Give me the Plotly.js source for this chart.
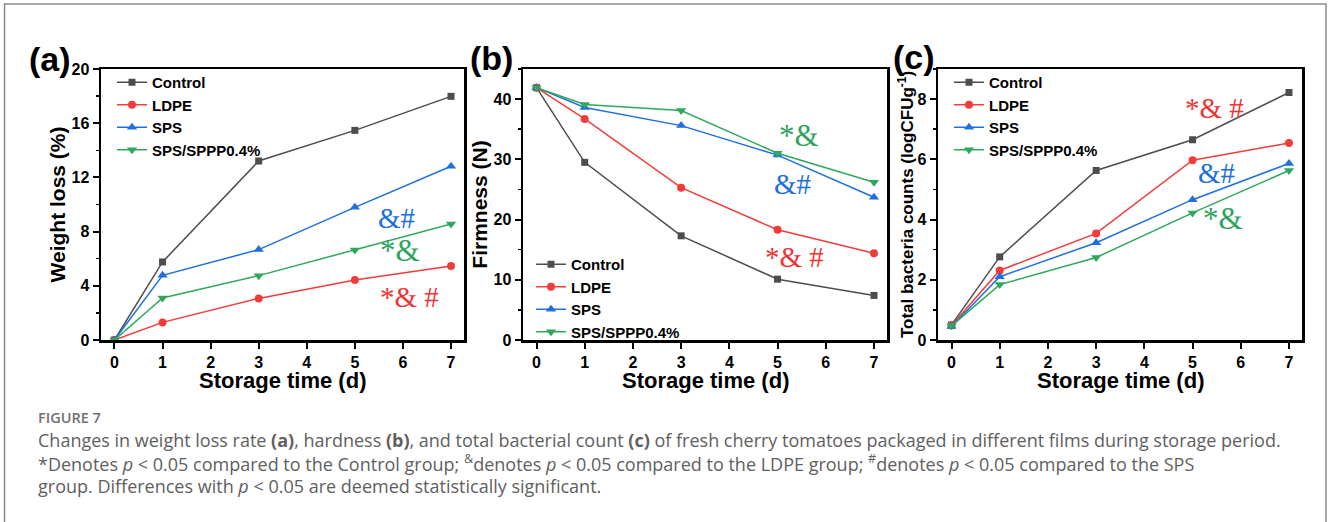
<!DOCTYPE html>
<html>
<head>
<meta charset="utf-8">
<script src="https://cdn.plot.ly/plotly-3.0.1.min.js"></script>
<style>html,body{margin:0;padding:0;background:#fff;}#chart{width:1328px;height:522px;}</style>
</head>
<body>
<div id="chart"></div>
<script>
// ---- data ----
const days = [0, 1, 3, 5, 7];
const seriesNames = ["Control", "LDPE", "SPS", "SPS/SPPP0.4%"];

// (a) Weight loss (%)
const weightControl = [0, 5.76, 13.21, 15.47, 17.98];
const weightLDPE    = [0, 1.30, 3.07, 4.43, 5.46];
const weightSPS     = [0, 4.77, 6.67, 9.79, 12.82];
const weightSPPP    = [0, 3.10, 4.75, 6.64, 8.56];

// (b) Firmness (N)
const firmControl = [41.9, 29.5, 17.3, 10.1, 7.4];
const firmLDPE    = [41.9, 36.7, 25.3, 18.3, 14.4];
const firmSPS     = [41.9, 38.6, 35.6, 30.7, 23.7];
const firmSPPP    = [41.9, 39.1, 38.1, 31.0, 26.2];

// (c) Total bacteria counts (logCFU g-1)
const bactControl = [0.50, 2.76, 5.63, 6.65, 8.22];
const bactLDPE    = [0.48, 2.31, 3.54, 5.97, 6.54];
const bactSPS     = [0.45, 2.10, 3.23, 4.66, 5.86];
const bactSPPP    = [0.47, 1.84, 2.74, 4.22, 5.63];

const xTicks = [0, 1, 2, 3, 4, 5, 6, 7];
const xTitle = "Storage time (d)";

// ---- styles ----
const colors = ["#4d4d4d", "#f23c3c", "#1f6fe0", "#2fa85c"];
const symbols = ["square", "circle", "triangle-up", "triangle-down"];
const msizes = [7, 8, 9, 9];
const annColors = {red: "#ee3535", blue: "#1c6fdc", green: "#2ea35c"};

function mk(vals, i, xa, ya, leg) {
  return {
    x: days, y: vals, type: "scatter", mode: "lines+markers",
    name: seriesNames[i], xaxis: xa, yaxis: ya, legend: leg,
    line: {color: colors[i], width: 1.5},
    marker: {color: colors[i], symbol: symbols[i], size: msizes[i]}
  };
}

const data = [
  mk(weightControl, 0, "x", "y", "legend"),
  mk(weightLDPE, 1, "x", "y", "legend"),
  mk(weightSPS, 2, "x", "y", "legend"),
  mk(weightSPPP, 3, "x", "y", "legend"),
  mk(firmControl, 0, "x2", "y2", "legend2"),
  mk(firmLDPE, 1, "x2", "y2", "legend2"),
  mk(firmSPS, 2, "x2", "y2", "legend2"),
  mk(firmSPPP, 3, "x2", "y2", "legend2"),
  mk(bactControl, 0, "x3", "y3", "legend3"),
  mk(bactLDPE, 1, "x3", "y3", "legend3"),
  mk(bactSPS, 2, "x3", "y3", "legend3"),
  mk(bactSPPP, 3, "x3", "y3", "legend3")
];

const W = 1328, H = 522;
const px = v => v / W;
const py = v => 1 - v / H;
const sans = "Liberation Sans, Arial, sans-serif";
const tickFont = {family: sans, size: 16, color: "#000", weight: "bold"};
const titleFont = {family: sans, size: 22, weight: "bold", color: "#000"};

function xAxis(l, r) {
  return {
    domain: [px(l), px(r)], range: [-0.28, 7.27], tickvals: xTicks,
    ticks: "outside", ticklen: 6, tickwidth: 2, tickcolor: "#000",
    showline: true, linewidth: 2.5, linecolor: "#000", mirror: true,
    showgrid: false, zeroline: false, tickfont: tickFont
  };
}
function yAxis(anchor, range, dtick, title, tsize, standoff) {
  return {
    domain: [py(340), py(69)], anchor: anchor, range: range, dtick: dtick, tick0: 0,
    ticks: "outside", ticklen: 6, tickwidth: 2, tickcolor: "#000",
    minor: {dtick: dtick / 2, ticks: "outside", ticklen: 3, tickwidth: 1.5, tickcolor: "#000"},
    showline: true, linewidth: 2.5, linecolor: "#000", mirror: true,
    showgrid: false, zeroline: false, tickfont: tickFont,
    title: {text: title, font: {family: sans, size: tsize, weight: "bold", color: "#000"}, standoff: standoff}
  };
}

function legendAt(xl, yt) {
  return {
    x: px(xl), y: py(yt), xanchor: "left", yanchor: "top",
    bgcolor: "rgba(0,0,0,0)", borderwidth: 0,
    font: {family: sans, size: 15, weight: "bold", color: "#000"},
    tracegroupgap: 0, itemwidth: 30
  };
}

function ann(xref, yref, x, y, text, color, size) {
  return {xref: xref, yref: yref, x: x, y: y, text: text, showarrow: false,
    font: {family: "Liberation Serif, Times New Roman, serif", size: size, color: color},
    xanchor: "center", yanchor: "middle"};
}
function xTitleAnn(xref) {
  return {xref: xref, yref: "paper", x: 3.5, y: py(380), text: xTitle, showarrow: false,
    font: titleFont, xanchor: "center", yanchor: "middle", borderpad: 0};
}

const captionFont = {family: "Open Sans, Noto Sans, sans-serif", size: 18, color: "#606060"};
const annotations = [
  // x-axis titles
  xTitleAnn("x"), xTitleAnn("x2"), xTitleAnn("x3"),
  // panel letters
  {xref: "paper", yref: "paper", x: px(50), y: py(59), text: "<b>(a)</b>", showarrow: false,
   font: {family: sans, size: 34, color: "#000"}, xanchor: "center", yanchor: "middle"},
  {xref: "paper", yref: "paper", x: px(491), y: py(58), text: "<b>(b)</b>", showarrow: false,
   font: {family: sans, size: 34, color: "#000"}, xanchor: "center", yanchor: "middle"},
  {xref: "paper", yref: "paper", x: px(914), y: py(57), text: "<b>(c)</b>", showarrow: false,
   font: {family: sans, size: 34, color: "#000"}, xanchor: "center", yanchor: "middle"},
  // significance marks (a)
  ann("x", "y", 5.86, 9.0, "&amp;#", annColors.blue, 29),
  ann("x", "y", 5.94, 6.57, "*&amp;", annColors.green, 31),
  ann("x", "y", 6.13, 3.14, "*&amp; #", annColors.red, 29),
  // (b)
  ann("x2", "y2", 5.44, 33.9, "*&amp;", annColors.green, 31),
  ann("x2", "y2", 5.30, 25.9, "&amp;#", annColors.blue, 29),
  ann("x2", "y2", 5.36, 13.8, "*&amp; #", annColors.red, 29),
  // (c)
  ann("x3", "y3", 5.45, 7.72, "*&amp; #", annColors.red, 29),
  ann("x3", "y3", 5.49, 5.56, "&amp;#", annColors.blue, 29),
  ann("x3", "y3", 5.64, 4.04, "*&amp;", annColors.green, 31),
  // caption
  {xref: "paper", yref: "paper", x: px(36), y: py(417), text: "FIGURE 7", showarrow: false,
   font: {family: "Open Sans, sans-serif", size: 14.5, color: "#707070", weight: 600}, xanchor: "left", yanchor: "middle"},
  {xref: "paper", yref: "paper", x: px(36), y: py(440), showarrow: false, xanchor: "left", yanchor: "middle", font: captionFont,
   text: "Changes in weight loss rate <b>(a)</b>, hardness <b>(b)</b>, and total bacterial count <b>(c)</b> of fresh cherry tomatoes packaged in different films during storage period."},
  {xref: "paper", yref: "paper", x: px(36), y: py(463), showarrow: false, xanchor: "left", yanchor: "middle", font: captionFont,
   text: "*Denotes <i>p</i> &lt; 0.05 compared to the Control group; <sup>&amp;</sup>denotes <i>p</i> &lt; 0.05 compared to the LDPE group; <sup>#</sup>denotes <i>p</i> &lt; 0.05 compared to the SPS"},
  {xref: "paper", yref: "paper", x: px(36), y: py(486), showarrow: false, xanchor: "left", yanchor: "middle", font: captionFont,
   text: "group. Differences with <i>p</i> &lt; 0.05 are deemed statistically significant."}
];

const layout = {
  width: W, height: H,
  margin: {l: 0, r: 0, t: 0, b: 0},
  paper_bgcolor: "#fff", plot_bgcolor: "#fff",
  showlegend: true,
  xaxis: Object.assign(xAxis(101, 464), {anchor: "y"}),
  yaxis: yAxis("x", [0, 20], 4, "Weight loss (%)", 21, 0),
  xaxis2: Object.assign(xAxis(523, 887), {anchor: "y2"}),
  yaxis2: yAxis("x2", [0, 45], 10, "Firmness (N)", 21, 0),
  xaxis3: Object.assign(xAxis(938, 1302), {anchor: "y3"}),
  yaxis3: yAxis("x3", [0, 9], 2, "Total bacteria counts (logCFUg<sup>-1</sup>)", 17, 0),
  legend: legendAt(112, 66),
  legend2: legendAt(531, 248),
  legend3: legendAt(949, 66),
  annotations: annotations,
  shapes: [
    {type: "rect", xref: "paper", yref: "paper", x0: px(4.5), x1: px(1326), y0: -0.05, y1: py(4),
     line: {color: "#8c8c8c", width: 1.5}, fillcolor: "rgba(0,0,0,0)", layer: "below"}
  ]
};

Plotly.newPlot("chart", data, layout, {displayModeBar: false, staticPlot: true});
</script>
</body>
</html>
